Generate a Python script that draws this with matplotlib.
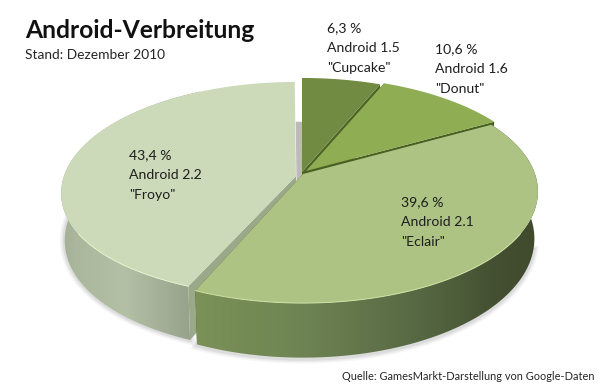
"""
Android-Verbreitung, 3D pie drawn by hand with a small perspective projection
"""

### Import modules
import numpy as np
import matplotlib
matplotlib.use('Agg')
import matplotlib.pyplot as plt
from matplotlib.colors import LinearSegmentedColormap
from matplotlib.patches import Polygon

### Data
shares = [6.3, 10.6, 39.6, 43.4]
versions = ['Android 1.5', 'Android 1.6', 'Android 2.1', 'Android 2.2']
names = ['"Cupcake"', '"Donut"', '"Eclair"', '"Froyo"']

### Styles
topcolors = ['#718c42', '#8fad52', '#adc383', '#ccdab9']
wallcolors = ['#4d6426', '#47601f', '#43502f', '#9aa98a']
rimcolors = [None, None, '#cfe0a4', '#e6f2c8']
offsets = [(-1, 0), (3, -1), (0, 2), (-7, 4)]
squeeze = [0, 0, 0, 0.06]
labelpos = [(327, 28), (435, 49), (401, 202), (129, 155)]
font = 'Lato'

### Pie geometry in pixels
cx, cy = 303, 172
rx, ry = 232, 108.8
persp = 0.157
depth = 46
shrink = 0.985

def top_ring(theta, off, sq=0):
    w = 1 + persp*np.cos(theta)
    front = 1 - sq*np.clip(-np.cos(theta), 0, 1)
    return (cx + off[0] + rx*np.sin(theta)/w,
            cy + off[1] - front*ry*np.cos(theta)/w)

def bottom_ring(theta, off, sq=0):
    x, y = top_ring(theta, off, sq)
    w = 1 + persp*np.cos(theta)
    return cx + (x-cx)*shrink, y + depth/w

def gradient_wall(ax, poly, xs, colors, zorder):
    cmap = LinearSegmentedColormap.from_list(
        'wall', [((x-xs[0])/(xs[-1]-xs[0]), c) for x, c in zip(xs, colors)])
    img = ax.imshow(np.linspace(0, 1, 256)[None, :], cmap=cmap, aspect='auto',
                    extent=[xs[0], xs[-1], 392, 0], zorder=zorder)
    patch = Polygon(poly, closed=True, transform=ax.transData,
                    facecolor='none', edgecolor='none')
    ax.add_patch(patch)
    img.set_clip_path(patch)

### Create plot
fig = plt.figure(figsize=(6, 3.92), dpi=100)
ax = fig.add_axes([0, 0, 1, 1])
ax.set_axis_off()

edges = np.radians(np.cumsum([0] + shares)*3.6)
arcs = [np.linspace(a, b, 200) for a, b in zip(edges[:-1], edges[1:])]

### Soft shadow under the front of the pie
x1, y1 = bottom_ring(arcs[3], offsets[3], squeeze[3])
x2, y2 = bottom_ring(arcs[2], offsets[2])
for lw, al in zip([7, 5, 3], [0.06, 0.08, 0.12]):
    ax.plot(x1[:160], y1[:160], color='#707070', lw=lw, alpha=al, zorder=1)
    ax.plot(x2[60:], y2[60:] + 1, color='#707070', lw=lw, alpha=al, zorder=1)

### Back wall strip of the Froyo slice, seen through the gap
xe, ye = top_ring(edges[-1], offsets[3])
xa, ya = cx + offsets[3][0], cy + offsets[3][1]
xb, yb = bottom_ring(edges[-1], offsets[3])
ax.add_patch(Polygon([(xe + 1, yb), (xe + 8, yb), (xa + 8, ya + depth), (xa + 1, ya + depth)],
                     closed=True, facecolor='#bcbcb4', edgecolor='none', zorder=2))

### Paint slices from back to front
for n, i in enumerate([0, 1, 3, 2]):
    off = offsets[i]
    z = 3 + 3*n
    tx, ty = top_ring(arcs[i], off, squeeze[i])
    bx, by = bottom_ring(arcs[i], off, squeeze[i])
    ax0, ay0 = cx + off[0], cy + off[1]

    ### Straight walls of the slice
    for k in ([0, -1] if i != 3 else [0]):
        wall = [(ax0, ay0), (tx[k], ty[k]), (bx[k], by[k]), (ax0, ay0 + depth)]
        ax.add_patch(Polygon(wall, closed=True, facecolor=wallcolors[i],
                             edgecolor='none', zorder=z))

    ### Outer wall with shading
    outer = np.r_[np.c_[tx, ty], np.c_[bx, by][::-1]]
    if i == 2:
        gradient_wall(ax, outer, [190, 300, 420, 500, 545],
                      ['#7b9258', '#6f8453', '#566843', '#434f30', '#3f4a2c'], z + 1)
    elif i == 3:
        gradient_wall(ax, outer, [55, 75, 125, 200],
                      ['#9eab90', '#aab79c', '#b4c0a6', '#929e86'], z + 1)

    ### Top face
    face = np.r_[[(ax0, ay0)], np.c_[tx, ty]]
    ax.add_patch(Polygon(face, closed=True, facecolor=topcolors[i],
                         edgecolor='none', zorder=z + 2))
    if rimcolors[i] is not None:
        front = np.cos(arcs[i]) < -0.5
        ax.plot(tx[front], ty[front], color=rimcolors[i], lw=0.7, zorder=z + 2)

### Add text to the plot
for share, version, name, pos in zip(shares, versions, names, labelpos):
    lines = [('%.1f %%' % share).replace('.', ','), version, name]
    for j, line in enumerate(lines):
        ax.text(pos[0], pos[1] + j*20, line, fontsize=10.1, family=font,
                color='#1e1e1e', ha='left', va='center', zorder=30)

ax.text(25, 30, 'Android-Verbreitung', fontsize=17.7, family=font, weight='bold',
        color='#111111', ha='left', va='center', zorder=30)
ax.text(25, 55, 'Stand: Dezember 2010', fontsize=9.9, family=font,
        color='#262626', ha='left', va='center', zorder=30)
ax.text(595, 376, 'Quelle: GamesMarkt-Darstellung von Google-Daten', fontsize=7.9,
        family=font, color='#262626', ha='right', va='center', zorder=30)

ax.set_xlim(0, 600)
ax.set_ylim(392, 0)

### Save figure
fig.savefig('out.png', dpi=100, facecolor='white')
